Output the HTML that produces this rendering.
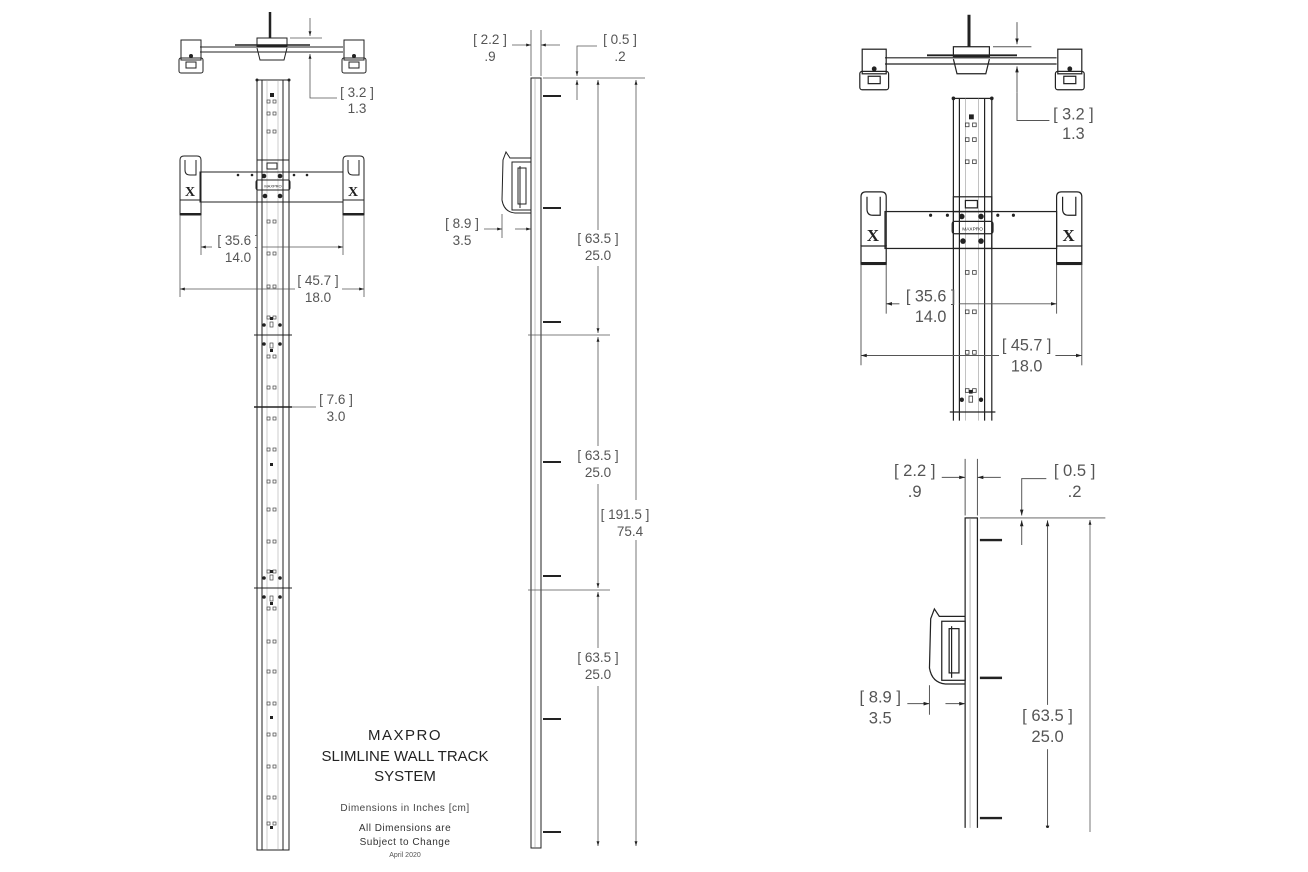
<!DOCTYPE html>
<html><head><meta charset="utf-8"><style>
html,body{margin:0;padding:0;background:#fff;width:1308px;height:872px;overflow:hidden;}
svg{display:block;font-family:"Liberation Sans",sans-serif;}
.l{stroke:#222;fill:none;stroke-width:1}
.t{stroke:#555;fill:none;stroke-width:0.8}
.dt{fill:#555;font-size:13.5px;text-anchor:middle}
.h{fill:none;stroke:#444;stroke-width:0.7}
</style></head><body>
<svg width="1308" height="872" viewBox="0 0 1308 872" xmlns="http://www.w3.org/2000/svg">
<defs>
<marker id="a" viewBox="0 0 10 10" refX="10" refY="5" markerWidth="6" markerHeight="6" orient="auto-start-reverse"><path d="M0,2 L10,5 L0,8z" fill="#222"/></marker>
<clipPath id="cf"><rect x="0" y="0" width="1308" height="342"/></clipPath>
<clipPath id="cs"><rect x="0" y="0" width="1308" height="330"/></clipPath>
<g id="front">
  <line x1="270" y1="12" x2="270" y2="38" stroke="#222" stroke-width="2.5"/>
  <rect x="257" y="38" width="30" height="8" class="l"/>
  <path d="M257,48 L260,60 L284,60 L287,48" class="l"/>
  <line x1="235" y1="45" x2="310" y2="45" stroke="#222" stroke-width="1.5"/>
  <line x1="200" y1="47" x2="343" y2="47" class="l"/>
  <line x1="200" y1="52" x2="343" y2="52" class="l"/>
  <rect x="181" y="40" width="20" height="20" class="l"/>
  <rect x="179" y="58" width="24" height="15" rx="2" class="l" stroke-width="1.8"/>
  <rect x="186" y="62" width="10" height="6" class="l"/>
  <circle cx="191" cy="56" r="2" fill="#222"/>
  <rect x="344" y="40" width="20" height="20" class="l"/>
  <rect x="342" y="58" width="24" height="15" rx="2" class="l" stroke-width="1.8"/>
  <rect x="349" y="62" width="10" height="6" class="l"/>
  <circle cx="354" cy="56" r="2" fill="#222"/>
  <line x1="290" y1="38" x2="322" y2="38" class="t"/>
  <line x1="310" y1="18" x2="310" y2="36" class="t" marker-end="url(#a)"/>
  <line x1="310" y1="75" x2="310" y2="54" class="t" marker-end="url(#a)"/>
  <polyline points="310,75 310,98 337,98" class="t"/>
  <text x="357" y="97" class="dt">[ 3.2 ]</text>
  <text x="357" y="113" class="dt">1.3</text>
  <rect x="257" y="80" width="32" height="770" class="l"/>
  <line x1="262" y1="80" x2="262" y2="850" class="l"/>
  <line x1="283" y1="80" x2="283" y2="850" class="l"/>
  <line x1="267" y1="80" x2="267" y2="850" stroke="#999" stroke-width="0.5"/>
  <line x1="278" y1="80" x2="278" y2="850" stroke="#999" stroke-width="0.5"/>
  <g fill="#222"><circle cx="257" cy="80" r="1.5"/><circle cx="289" cy="80" r="1.5"/></g>
  <rect x="270" y="93" width="4" height="4" fill="#222"/>
  <g class="h">
    <rect x="267" y="100" width="3" height="3"/><rect x="273" y="100" width="3" height="3"/>
    <rect x="267" y="112" width="3" height="3"/><rect x="273" y="112" width="3" height="3"/>
    <rect x="267" y="130" width="3" height="3"/><rect x="273" y="130" width="3" height="3"/>
    <rect x="267" y="220" width="3" height="3"/><rect x="273" y="220" width="3" height="3"/>
    <rect x="267" y="252" width="3" height="3"/><rect x="273" y="252" width="3" height="3"/>
    <rect x="267" y="285" width="3" height="3"/><rect x="273" y="285" width="3" height="3"/>
    <rect x="267" y="316" width="3" height="3"/><rect x="273" y="316" width="3" height="3"/>
    <rect x="267" y="355" width="3" height="3"/><rect x="273" y="355" width="3" height="3"/>
    <rect x="267" y="386" width="3" height="3"/><rect x="273" y="386" width="3" height="3"/>
    <rect x="267" y="417" width="3" height="3"/><rect x="273" y="417" width="3" height="3"/>
    <rect x="267" y="448" width="3" height="3"/><rect x="273" y="448" width="3" height="3"/>
    <rect x="267" y="480" width="3" height="3"/><rect x="273" y="480" width="3" height="3"/>
    <rect x="267" y="508" width="3" height="3"/><rect x="273" y="508" width="3" height="3"/>
    <rect x="267" y="540" width="3" height="3"/><rect x="273" y="540" width="3" height="3"/>
    <rect x="267" y="570" width="3" height="3"/><rect x="273" y="570" width="3" height="3"/>
    <rect x="267" y="607" width="3" height="3"/><rect x="273" y="607" width="3" height="3"/>
    <rect x="267" y="640" width="3" height="3"/><rect x="273" y="640" width="3" height="3"/>
    <rect x="267" y="670" width="3" height="3"/><rect x="273" y="670" width="3" height="3"/>
    <rect x="267" y="702" width="3" height="3"/><rect x="273" y="702" width="3" height="3"/>
    <rect x="267" y="733" width="3" height="3"/><rect x="273" y="733" width="3" height="3"/>
    <rect x="267" y="765" width="3" height="3"/><rect x="273" y="765" width="3" height="3"/>
    <rect x="267" y="796" width="3" height="3"/><rect x="273" y="796" width="3" height="3"/>
    <rect x="267" y="822" width="3" height="3"/><rect x="273" y="822" width="3" height="3"/>
    <rect x="270" y="322" width="3" height="5"/><rect x="270" y="343" width="3" height="5"/>
    <rect x="270" y="575" width="3" height="5"/><rect x="270" y="596" width="3" height="5"/>
  </g>
  <g fill="#222">
    <rect x="270" y="317" width="3" height="3"/><circle cx="264" cy="325" r="1.8"/><circle cx="280" cy="325" r="1.8"/>
    <circle cx="264" cy="344" r="1.8"/><circle cx="280" cy="344" r="1.8"/><rect x="270" y="349" width="3" height="3"/>
    <rect x="270" y="463" width="3" height="3"/>
    <rect x="270" y="570" width="3" height="3"/><circle cx="264" cy="578" r="1.8"/><circle cx="280" cy="578" r="1.8"/>
    <circle cx="264" cy="597" r="1.8"/><circle cx="280" cy="597" r="1.8"/><rect x="270" y="602" width="3" height="3"/>
    <rect x="270" y="716" width="3" height="3"/><rect x="270" y="826" width="3" height="3"/>
  </g>
  <line x1="254" y1="335" x2="292" y2="335" class="l"/>
  <line x1="254" y1="588" x2="292" y2="588" class="l"/>
  <line x1="254" y1="407" x2="292" y2="407" stroke="#222" stroke-width="1.5"/>
  <line x1="292" y1="407" x2="316" y2="407" class="t"/>
  <text x="336" y="404" class="dt">[ 7.6 ]</text>
  <text x="336" y="421" class="dt">3.0</text>
  <rect x="200" y="172" width="143" height="30" fill="#fff" class="l"/>
  <path d="M180,200 L180,160 Q180,156 184,156 L197,156 Q201,156 201,160 L201,200" class="l"/>
  <rect x="180" y="200" width="21" height="15" class="l"/>
  <line x1="180" y1="214" x2="201" y2="214" stroke="#222" stroke-width="2"/>
  <path d="M185,160 L185,170 Q185,175 190,175 L196,175 L196,160" class="l"/>
  <text x="190" y="196" font-size="14" font-weight="bold" text-anchor="middle" fill="#222" font-family="Liberation Serif,serif">X</text>
  <path d="M343,200 L343,160 Q343,156 347,156 L360,156 Q364,156 364,160 L364,200" class="l"/>
  <rect x="343" y="200" width="21" height="15" class="l"/>
  <line x1="343" y1="214" x2="364" y2="214" stroke="#222" stroke-width="2"/>
  <path d="M348,160 L348,170 Q348,175 353,175 L359,175 L359,160" class="l"/>
  <text x="353" y="196" font-size="14" font-weight="bold" text-anchor="middle" fill="#222" font-family="Liberation Serif,serif">X</text>
  <rect x="257" y="160" width="32" height="12" fill="#fff" class="l"/>
  <rect x="267" y="163" width="10" height="6" class="l"/>
  <rect x="257" y="172" width="32" height="30" fill="#fff" class="l"/>
  <rect x="256" y="180" width="34" height="10" rx="2" fill="#fff" class="l"/>
  <text x="273" y="187.5" font-size="4" text-anchor="middle" fill="#222">MAXPRO</text>
  <g fill="#222"><circle cx="238" cy="175" r="1.3"/><circle cx="252" cy="175" r="1.3"/><circle cx="294" cy="175" r="1.3"/><circle cx="307" cy="175" r="1.3"/>
  <circle cx="264" cy="176" r="2.3"/><circle cx="280" cy="176" r="2.3"/><circle cx="265" cy="196" r="2.3"/><circle cx="280" cy="196" r="2.3"/></g>
  <line x1="201" y1="215" x2="201" y2="255" class="t"/>
  <line x1="343" y1="215" x2="343" y2="255" class="t"/>
  <line x1="180" y1="215" x2="180" y2="297" class="t"/>
  <line x1="364" y1="215" x2="364" y2="297" class="t"/>
  <line x1="212" y1="247" x2="201" y2="247" class="t" marker-end="url(#a)"/>
  <line x1="262" y1="247" x2="343" y2="247" class="t" marker-end="url(#a)"/>
  <text x="238" y="245" class="dt">[ 35.6 ]</text>
  <text x="238" y="262" class="dt">14.0</text>
  <line x1="295" y1="289" x2="180" y2="289" class="t" marker-end="url(#a)"/>
  <line x1="342" y1="289" x2="364" y2="289" class="t" marker-end="url(#a)"/>
  <text x="318" y="285" class="dt">[ 45.7 ]</text>
  <text x="318" y="302" class="dt">18.0</text>
</g>
<g id="side">
  <rect x="531" y="78" width="10" height="770" class="l"/>
  <line x1="535" y1="78" x2="535" y2="848" stroke="#888" stroke-width="0.5"/>
  <g stroke="#222" stroke-width="2">
    <line x1="543" y1="96" x2="561" y2="96"/><line x1="543" y1="208" x2="561" y2="208"/>
    <line x1="543" y1="322" x2="561" y2="322"/><line x1="543" y1="462" x2="561" y2="462"/>
    <line x1="543" y1="576" x2="561" y2="576"/><line x1="543" y1="719" x2="561" y2="719"/>
    <line x1="543" y1="832" x2="561" y2="832"/>
  </g>
  <line x1="528" y1="335" x2="610" y2="335" class="t"/>
  <line x1="528" y1="590" x2="610" y2="590" class="t"/>
  <path d="M531,158 L510,158 L506,152 L503,160 L502,200 Q504,212 515,213 L531,213" class="l"/>
  <rect x="512" y="162" width="19" height="48" class="l"/>
  <rect x="518" y="168" width="8" height="36" class="l"/>
  <line x1="520" y1="166" x2="520" y2="208" class="l"/>
  <line x1="531" y1="30" x2="531" y2="76" class="t"/><line x1="541" y1="30" x2="541" y2="76" class="t"/>
  <line x1="512" y1="45" x2="531" y2="45" class="t" marker-end="url(#a)"/>
  <line x1="560" y1="45" x2="541" y2="45" class="t" marker-end="url(#a)"/>
  <text x="490" y="44" class="dt">[ 2.2 ]</text><text x="490" y="61" class="dt">.9</text>
  <polyline points="597,46 577,46 577,76" class="t" marker-end="url(#a)"/>
  <line x1="577" y1="100" x2="577" y2="80" class="t" marker-end="url(#a)"/>
  <line x1="543" y1="78" x2="645" y2="78" class="t"/>
  <text x="620" y="44" class="dt">[ 0.5 ]</text><text x="620" y="61" class="dt">.2</text>
  <line x1="502" y1="214" x2="502" y2="238" class="t"/>
  <line x1="484" y1="229" x2="502" y2="229" class="t" marker-end="url(#a)"/>
  <line x1="515" y1="229" x2="531" y2="229" class="t" marker-end="url(#a)"/>
  <text x="462" y="228" class="dt">[ 8.9 ]</text><text x="462" y="245" class="dt">3.5</text>
  <line x1="598" y1="230" x2="598" y2="80" class="t" marker-end="url(#a)"/>
  <line x1="598" y1="266" x2="598" y2="333" class="t" marker-end="url(#a)"/>
  <text x="598" y="243" class="dt">[ 63.5 ]</text><text x="598" y="260" class="dt">25.0</text>
</g>
</defs>

<use href="#front"/>
<g transform="translate(645,0) scale(1.2,1.23)" clip-path="url(#cf)"><use href="#front"/></g>

<use href="#side"/>
<g transform="translate(312,422) scale(1.23)" clip-path="url(#cs)"><use href="#side"/></g>

<line x1="598" y1="337" x2="598" y2="446" class="t" marker-start="url(#a)"/>
<line x1="598" y1="484" x2="598" y2="588" class="t" marker-end="url(#a)"/>
<text x="598" y="460" class="dt">[ 63.5 ]</text><text x="598" y="477" class="dt">25.0</text>
<line x1="598" y1="592" x2="598" y2="648" class="t" marker-start="url(#a)"/>
<line x1="598" y1="686" x2="598" y2="846" class="t" marker-end="url(#a)"/>
<text x="598" y="662" class="dt">[ 63.5 ]</text><text x="598" y="679" class="dt">25.0</text>
<line x1="636" y1="500" x2="636" y2="80" class="t" marker-end="url(#a)"/>
<line x1="636" y1="540" x2="636" y2="846" class="t" marker-end="url(#a)"/>
<text x="625" y="519" class="dt">[ 191.5 ]</text><text x="630" y="536" class="dt">75.4</text>
<line x1="1090" y1="520" x2="1090" y2="832" class="t" marker-start="url(#a)"/>

<g text-anchor="middle" fill="#222">
<text x="405" y="740" font-size="15" letter-spacing="1.5">MAXPRO</text>
<text x="405" y="761" font-size="15">SLIMLINE WALL TRACK</text>
<text x="405" y="781" font-size="15">SYSTEM</text>
<text x="405" y="811" font-size="10" fill="#444" letter-spacing="0.5">Dimensions in Inches [cm]</text>
<text x="405" y="831" font-size="10" fill="#333" letter-spacing="0.5">All Dimensions are</text>
<text x="405" y="845" font-size="10" fill="#333" letter-spacing="0.5">Subject to Change</text>
<text x="405" y="857" font-size="7" fill="#555">April 2020</text>
</g>
</svg>
</body></html>
